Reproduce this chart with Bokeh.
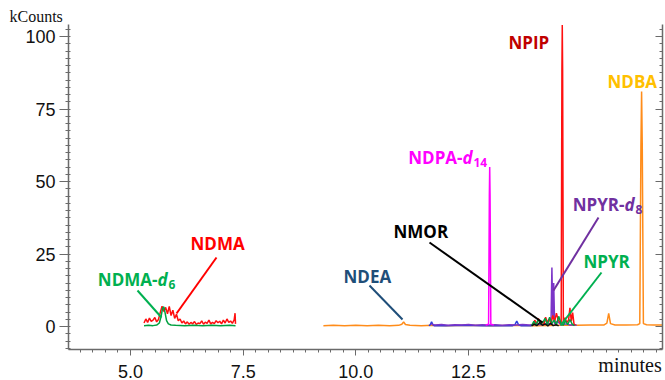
from bokeh.plotting import figure
from bokeh.models import LinearAxis, FixedTicker, Label, Range1d, NumeralTickFormatter
from bokeh.embed import file_html
from bokeh.resources import INLINE

# ---------------- data (minutes, kCounts) ----------------
ndma_t = [5.30, 5.34, 5.38, 5.42, 5.46, 5.50, 5.54, 5.58, 5.62, 5.66, 5.70, 5.74, 5.78, 5.82, 5.86,
          5.90, 5.94, 5.98, 6.02, 6.06, 6.10, 6.14, 6.18, 6.22, 6.26, 6.30, 6.34, 6.38, 6.42, 6.46,
          6.50, 6.54, 6.58, 6.62, 6.66, 6.70, 6.74, 6.78, 6.82, 6.86, 6.90, 6.94, 6.98, 7.02, 7.06,
          7.10, 7.14, 7.18, 7.22, 7.26, 7.30, 7.32, 7.33]
ndma_i = [1.2, 2.6, 1.4, 2.9, 1.8, 2.2, 3.1, 1.6, 2.4, 4.8, 7.0, 5.2, 6.6, 4.4, 6.9,
          3.8, 5.6, 2.8, 4.2, 2.0, 2.6, 1.2, 1.9, 0.9, 1.6, 0.8, 1.4, 0.9, 1.7, 0.7,
          1.2, 1.0, 1.9, 0.8, 1.5, 1.1, 2.2, 0.9, 1.4, 1.0, 2.0, 1.3, 1.8, 0.9, 2.2,
          1.2, 2.6, 1.4, 1.9, 1.1, 2.3, 4.6, 0.9]

ndma_d6_t = [5.30, 5.40, 5.50, 5.58, 5.64, 5.68, 5.71, 5.74, 5.77, 5.80, 5.84, 5.90, 6.00, 6.20,
             6.40, 6.60, 6.80, 7.00, 7.20, 7.33]
ndma_d6_i = [0.3, 0.4, 0.3, 0.5, 1.2, 3.5, 6.2, 6.8, 4.5, 2.0, 0.9, 0.5, 0.4, 0.3,
             0.4, 0.3, 0.4, 0.3, 0.4, 0.3]

ndba_t = [9.28, 9.50, 9.75, 10.00, 10.25, 10.50, 10.75, 10.95, 11.02, 11.06, 11.10, 11.20, 11.45,
          11.70, 12.00, 12.50, 13.00, 13.50, 14.00, 14.50, 14.90, 15.20, 15.50, 15.57, 15.61,
          15.65, 15.75, 16.00, 16.25, 16.30, 16.325, 16.34, 16.355, 16.38, 16.45, 16.60, 16.80]
ndba_i = [0.3, 0.4, 0.3, 0.4, 0.3, 0.4, 0.3, 0.4, 0.8, 1.6, 0.7, 0.4, 0.3,
          0.4, 0.3, 0.4, 0.3, 0.4, 0.3, 0.4, 0.4, 0.5, 0.5, 1.2, 4.5,
          1.0, 0.5, 0.5, 0.6, 1.0, 62.0, 81.0, 62.0, 1.0, 0.6, 0.5, 0.5]

ndea_t = [11.62, 11.65, 11.68, 11.71, 11.74, 12.00, 12.40, 12.80, 13.20, 13.48, 13.53, 13.57,
          13.61, 13.66, 13.90]
ndea_i = [0.3, 0.6, 1.6, 0.6, 0.3, 0.3, 0.4, 0.3, 0.3, 0.3, 0.6, 1.9, 0.6, 0.3, 0.3]

npyr_d8_t = [11.66, 11.75, 11.90, 12.05, 12.20, 12.35, 12.50, 12.65, 12.80, 12.95, 13.10, 13.25,
             13.40, 13.55, 13.70, 13.85, 14.00, 14.15, 14.25, 14.33, 14.35, 14.37, 14.39, 14.41,
             14.47, 14.55, 14.65, 14.75, 14.85, 14.90]
npyr_d8_i = [0.9, 0.5, 0.7, 0.4, 0.6, 0.5, 0.7, 0.4, 0.6, 0.5, 0.6, 0.4,
             0.6, 0.5, 0.7, 0.5, 0.8, 0.6, 1.0, 0.8, 20.3, 3.0, 15.0, 0.9,
             1.8, 0.6, 0.9, 0.5, 0.6, 0.4]

ndpa_d14_t = [12.88, 12.945, 12.962, 12.97, 12.978, 12.995, 13.06]
ndpa_d14_i = [0.5, 0.8, 45.0, 55.0, 45.0, 0.8, 0.5]

npip_t = [13.93, 13.97, 14.01, 14.05, 14.09, 14.13, 14.17, 14.21, 14.25, 14.29, 14.33, 14.37,
          14.41, 14.45, 14.49, 14.53, 14.556, 14.572, 14.58, 14.588, 14.604, 14.64, 14.68, 14.72,
          14.75, 14.78, 14.81, 14.84, 14.87]
npip_i = [0.4, 2.2, 0.8, 2.8, 1.0, 1.8, 0.6, 3.2, 1.4, 2.6, 0.9, 3.8,
          1.6, 4.6, 2.2, 1.4, 1.0, 88.0, 104.0, 88.0, 1.2, 3.0, 1.4, 2.2,
          6.4, 1.8, 4.8, 0.9, 0.4]

npyr_t = [13.90, 13.95, 14.00, 14.05, 14.10, 14.15, 14.20, 14.25, 14.30, 14.35, 14.40, 14.45,
          14.50, 14.55, 14.60, 14.65, 14.70, 14.75, 14.80, 14.85]
npyr_i = [0.3, 1.8, 0.5, 2.5, 0.8, 1.5, 2.8, 0.6, 3.2, 1.0, 2.2, 0.5,
          3.5, 1.2, 0.4, 2.0, 0.6, 2.4, 0.8, 0.3]

nmor_t = [13.90, 13.96, 14.02, 14.08, 14.14, 14.20, 14.26, 14.32, 14.38, 14.44, 14.50]
nmor_i = [0.2, 0.8, 0.3, 1.4, 0.4, 0.9, 0.2, 1.1, 0.3, 0.6, 0.2]

x_ticks = [5.0, 7.5, 10.0, 12.5]
y_ticks = [0, 25, 50, 75, 100]
x_minor = [3.61 + k * 2.5 / 9 for k in range(48)]
y_minor = [-7.5 + k * 2.5 for k in range(45)]

# ---------------- layout helpers (pixel -> data) ----------------
def dx(px):
    return 5.0 + (px - 130) / 45.07

def dy(py):
    return (326 - py) / 2.9

p = figure(width=665, height=380, output_backend="svg", toolbar_location=None,
           x_range=Range1d(dx(68), dx(662)), y_range=Range1d(dy(349), dy(24)),
           min_border_left=68, min_border_right=3, min_border_top=24, min_border_bottom=31)
p.outline_line_color = None
p.xgrid.visible = False
p.ygrid.visible = False
p.background_fill_color = "white"

p.title.text = "kCounts"
p.title.align = "left"
p.title.offset = -59
p.title.standoff = 0
p.title.text_font = "Liberation Serif"
p.title.text_font_size = "16px"
p.title.text_font_style = "normal"
p.title.text_color = "#111111"

axcol = "#6a6a6a"
xa = p.xaxis[0]
xa.ticker = FixedTicker(ticks=x_ticks, minor_ticks=x_minor)
xa.formatter = NumeralTickFormatter(format="0.0")
xa.axis_line_color = axcol
xa.axis_line_width = 1.5
xa.major_tick_line_color = axcol
xa.minor_tick_line_color = axcol
xa.major_tick_out = 6
xa.major_tick_in = 0
xa.minor_tick_out = 3
xa.minor_tick_in = 0
xa.major_label_standoff = 9
xa.major_label_text_font = "Liberation Sans"
xa.major_label_text_font_size = "18px"
xa.major_label_text_color = "#111111"
# trailing no-break spaces shift the end-anchored label so its right edge meets the frame edge
xa.axis_label = "minutes" + "\u00a0" * 13
xa.axis_label_align = "end"
xa.axis_label_standoff = -27
xa.axis_label_text_font = "Liberation Serif"
xa.axis_label_text_font_size = "20px"
xa.axis_label_text_font_style = "normal"
xa.axis_label_text_color = "#111111"

ya = p.yaxis[0]
ya.ticker = FixedTicker(ticks=y_ticks, minor_ticks=y_minor)
ya.axis_line_color = axcol
ya.axis_line_width = 1.5
ya.major_tick_line_color = axcol
ya.minor_tick_line_color = axcol
ya.major_tick_out = 9
ya.major_tick_in = 0
ya.minor_tick_out = 3
ya.minor_tick_in = 2
ya.major_label_standoff = 4
ya.major_label_text_font = "Liberation Sans"
ya.major_label_text_font_size = "18px"
ya.major_label_text_color = "#111111"

ra = LinearAxis(ticker=FixedTicker(ticks=y_ticks, minor_ticks=y_minor))
ra.axis_line_color = axcol
ra.axis_line_width = 1.5
ra.major_tick_line_color = axcol
ra.minor_tick_line_color = axcol
ra.major_tick_in = 7
ra.major_tick_out = 0
ra.minor_tick_in = 3
ra.minor_tick_out = 0
ra.major_label_overrides = {t: "" for t in y_ticks}
ra.major_label_standoff = 0
p.add_layout(ra, "right")

# ---------------- traces ----------------
lw = 1.5
p.line(ndba_t, ndba_i, color="#FF8C1A", line_width=lw)
p.line(ndea_t, ndea_i, color="#2A3FE0", line_width=lw)
p.line(npyr_d8_t, npyr_d8_i, color="#7B35C8", line_width=lw)
p.line(ndpa_d14_t, ndpa_d14_i, color="#FF00FF", line_width=lw)
p.line(npip_t, npip_i, color="#FF1010", line_width=lw)
p.line(npyr_t, npyr_i, color="#00A040", line_width=lw)
p.line(nmor_t, nmor_i, color="#111111", line_width=lw)
p.line(ndma_t, ndma_i, color="#FF1010", line_width=lw)
p.line(ndma_d6_t, ndma_d6_i, color="#00A040", line_width=lw)

# ---------------- callout lines (pixel anchors -> data) ----------------
callouts = [
    ((216, 257), (176, 313), "#FF0000"),
    ((137, 290), (161, 317), "#00B050"),
    ((369, 285), (402, 319), "#1F4E79"),
    ((429, 242), (542, 322), "#000000"),
    ((598, 217), (553, 290), "#7030A0"),
    ((601, 272), (560, 325), "#00B050"),
]
for (a, b, c) in callouts:
    p.segment(x0=[dx(a[0])], y0=[dy(a[1])], x1=[dx(b[0])], y1=[dy(b[1])], line_color=c, line_width=2)

# ---------------- compound labels ----------------
LF = "Open Sans"

def lab(text, px, py, color, align="left", style="bold", size="17px"):
    p.add_layout(Label(x=dx(px), y=dy(py), text=text, text_color=color, text_font=LF,
                       text_font_style=style, text_font_size=size, text_align=align,
                       text_baseline="middle"))

def sublab(prefix, sub, jx, py, color):
    lab(prefix, jx, py, color, align="right")
    lab("d", jx, py, color, align="left", style="bold italic")
    lab(sub, jx + 11, py + 5, color, align="left", size="12px")

lab("NPIP", 508, 42, "#C00000")
lab("NDBA", 607, 81, "#FFC000")
sublab("NDPA-", "14", 462, 157, "#FF00FF")
sublab("NPYR-", "8", 624, 204, "#7030A0")
lab("NMOR", 393, 231, "#000000")
lab("NPYR", 583, 261, "#00B050")
lab("NDMA", 190, 243, "#FF0000")
sublab("NDMA-", "6", 157, 279, "#00B050")
lab("NDEA", 343, 276, "#1F4E79")

open("out.html", "w").write(file_html(p, INLINE))
